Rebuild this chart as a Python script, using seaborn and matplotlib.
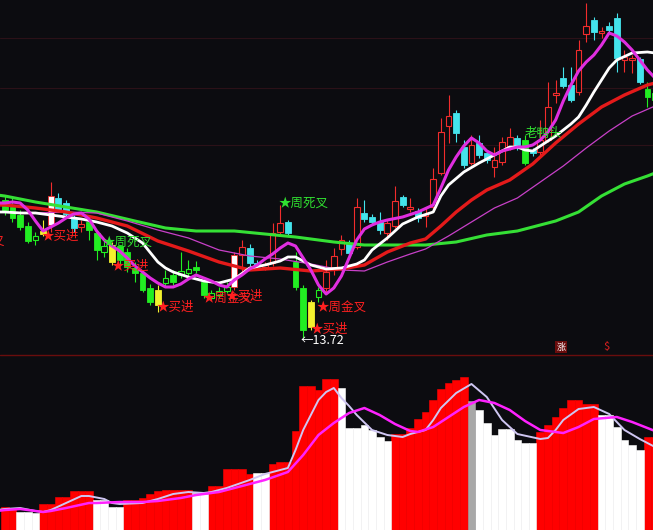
import matplotlib
matplotlib.use("Agg")
import matplotlib.pyplot as plt
import seaborn as sns
import pandas as pd
from matplotlib.patches import Rectangle
from matplotlib.lines import Line2D

# ---------------- data ----------------
kinds = ['g','g','g','g','gh','y','w','c','c','c','r','g','g','gh','y','g','g','g','g','g',
         'y','gh','g','gh','gh','g','g','gh','gh','gh','w','r','c','c','r','r','r','c','g','g',
         'y','gh','r','r','r','c','r','c','c','c','r','r','c','r','c','r','r','r','r','c',
         'c','r','c','c','r','r','r','c','g','c','r','r','r','c','c','r','r','c','r','c',
         'c','r','r','c','g','g']
opens = [15.10,15.03,14.95,14.84,14.70,14.79,14.85,15.12,15.07,14.92,14.83,14.88,14.77,14.58,14.65,14.64,14.58,14.42,14.37,14.22,
         14.20,14.27,14.35,14.35,14.37,14.43,14.28,14.12,14.15,14.19,14.23,14.55,14.62,14.47,14.43,14.47,14.78,14.88,14.48,14.22,
         14.08,14.13,14.22,14.40,14.61,14.67,14.63,14.97,14.93,14.88,14.77,14.84,15.13,15.01,14.99,14.94,15.03,15.37,15.84,15.97,
         15.63,15.47,15.67,15.57,15.43,15.48,15.63,15.72,15.70,15.60,15.58,15.70,16.15,16.32,16.25,16.18,16.76,16.90,16.77,16.84,
         16.92,16.50,16.50,16.51,16.21,16.17]
closes = [15.00,14.92,14.83,14.69,14.74,14.76,15.14,15.00,14.96,14.82,14.86,14.80,14.60,14.64,14.48,14.50,14.43,14.37,14.20,14.08,
          14.05,14.32,14.28,14.39,14.41,14.40,14.15,14.17,14.19,14.23,14.55,14.63,14.47,14.44,14.45,14.77,14.87,14.77,14.23,13.80,
          13.83,14.20,14.38,14.54,14.70,14.57,15.03,14.91,14.88,14.80,14.87,15.09,15.05,15.03,14.92,14.96,15.31,15.78,15.94,15.77,
          15.45,15.65,15.55,15.50,15.50,15.68,15.73,15.63,15.47,15.57,15.70,16.03,16.17,16.24,16.10,16.60,16.84,16.78,16.79,16.80,
          16.52,16.53,16.52,16.28,16.13,16.10]
highs = [15.15,15.13,15.00,14.88,14.78,14.90,15.28,15.17,15.10,14.95,14.90,14.92,14.80,14.70,14.68,14.65,14.62,14.48,14.40,14.26,
         14.25,14.40,14.40,14.58,14.50,14.49,14.32,14.20,14.23,14.28,14.58,14.70,14.66,14.50,14.48,14.87,15.05,14.90,14.58,14.25,
         14.10,14.23,14.50,14.62,14.75,14.70,15.12,15.10,14.96,14.98,14.90,15.24,15.15,15.12,15.02,15.03,15.42,15.92,16.15,16.00,
         15.70,15.75,15.75,15.60,15.63,15.73,15.82,15.75,15.75,15.62,15.90,16.28,16.30,16.43,16.43,16.70,17.07,16.93,16.83,16.88,
         16.97,16.60,16.55,16.53,16.28,16.22]
lows = [14.95,14.88,14.80,14.67,14.65,14.74,14.78,14.98,14.94,14.78,14.78,14.70,14.50,14.53,14.45,14.44,14.38,14.28,14.18,14.05,
        13.98,14.23,14.25,14.32,14.34,14.37,14.12,14.10,14.12,14.17,14.20,14.35,14.44,14.42,14.40,14.44,14.75,14.74,14.20,13.72,
        13.80,14.08,14.17,14.35,14.55,14.54,14.61,14.88,14.85,14.76,14.70,14.82,15.03,14.98,14.88,14.83,15.00,15.35,15.67,15.68,
        15.42,15.45,15.52,15.47,15.33,15.45,15.60,15.60,15.45,15.54,15.53,15.68,16.07,16.22,16.08,16.15,16.68,16.70,16.72,16.78,
        16.38,16.38,16.37,16.26,16.03,16.06]

ma5_k = [-1,0,1,2,3,4,5,6,7,8,9,10,11,12,13,14,15,16,17,18,19,20,21,22,23,24,25,26,27,28,29,30,31,32,33,34,35,36,37,38,39,40,
         41,42,43,44,45,46,47,48,49,50,52,54,56,57,58,59,60,61,62,63,64,65,66,67,68,69,70,71,72,73,74,75,76,77,78,79,80,81,82,83,84,85]
ma5_v = [15.07,15.07,15.08,15.07,15.00,14.89,14.79,14.83,14.87,14.92,14.96,14.97,14.91,14.79,14.70,14.64,14.59,14.52,14.44,14.38,
         14.32,14.27,14.23,14.23,14.26,14.31,14.35,14.32,14.29,14.25,14.23,14.30,14.35,14.41,14.45,14.51,14.56,14.62,14.67,14.64,
         14.52,14.40,14.25,14.16,14.22,14.34,14.52,14.70,14.81,14.85,14.88,14.90,14.93,14.98,15.05,15.22,15.40,15.53,15.64,15.72,
         15.67,15.59,15.55,15.59,15.61,15.63,15.63,15.65,15.70,15.78,15.90,16.09,16.25,16.39,16.48,16.55,16.65,16.77,16.74,16.68,
         16.60,16.50,16.40,16.32]
ma10_k = [-1,0,2,4,6,8,10,12,14,16,18,20,21,22,24,26,28,30,32,34,36,37,38,40,42,44,46,47,48,50,52,54,56,57,58,60,62,64,66,67,
          68,69,70,72,74,75,76,77,78,79,80,82,84,85]
ma10_v = [14.98,14.98,14.97,14.97,14.95,14.93,14.91,14.88,14.84,14.77,14.67,14.48,14.42,14.38,14.33,14.29,14.27,14.31,14.42,14.45,
          14.49,14.53,14.53,14.45,14.41,14.42,14.46,14.50,14.60,14.72,14.86,14.93,14.98,15.14,15.25,15.38,15.47,15.55,15.63,15.63,
          15.60,15.59,15.64,15.74,15.86,15.93,16.05,16.18,16.30,16.42,16.50,16.57,16.58,16.57]
ma20_k = [-1,0,4,8,12,16,20,24,28,32,36,40,44,47,50,53,55,57,59,61,63,66,69,72,75,78,81,84,85]
ma20_v = [15.05,15.05,15.02,14.98,14.92,14.84,14.69,14.59,14.48,14.40,14.42,14.39,14.41,14.45,14.58,14.67,14.71,14.84,14.98,15.10,
          15.20,15.30,15.46,15.67,15.86,16.03,16.15,16.25,16.27]
ma30_k = [-1,0,4,8,12,16,20,24,28,32,36,40,44,47,50,53,55,58,61,64,67,70,73,76,79,82,85]
ma30_v = [14.98,14.98,14.97,14.98,14.97,14.89,14.80,14.72,14.60,14.54,14.51,14.46,14.40,14.39,14.48,14.56,14.61,14.74,14.88,15.02,
          15.12,15.28,15.44,15.62,15.79,15.94,16.04]
ma60_k = [-1,0,4,8,12,17,21,25,30,34,38,43,47,51,55,59,63,67,72,75,78,81,84,85]
ma60_v = [15.15,15.14,15.08,15.03,14.98,14.89,14.82,14.79,14.79,14.76,14.73,14.68,14.65,14.65,14.65,14.68,14.75,14.79,14.89,14.98,
          15.14,15.26,15.34,15.37]

grid_levels = [16.72, 16.22, 15.65]

lab_text = ['★买进', '★周死叉', '★买进', '★买进', '★周金叉', '★买进', '★周死叉', '★周金叉', '★买进', '←13.72', '老鸭头', '叉']
lab_k = [4.86, 12.8, 13.9, 19.8, 25.8, 28.8, 35.8, 40.7, 39.9, 38.6, 67.9, -0.1]
lab_p = [14.74, 14.68, 14.44, 14.03, 14.11, 14.14, 15.07, 14.02, 13.81, 13.70, 15.77, 14.69]
lab_col = ['#ff2020', '#30e030', '#ff2020', '#ff2020', '#ff2020', '#ff2020', '#30e030', '#ff2020', '#ff2020', '#ffffff',
           '#30e030', '#ff2020']

# lower indicator panel
ind_v = [23,22,18,18,17,26,26,33,33,39,39,39,30,30,23,23,30,30,32,36,
         39,40,40,40,40,37,36,44,44,61,61,61,56,57,57,66,68,68,99,144,
         144,140,151,151,142,102,102,105,100,93,89,96,96,102,111,118,130,141,147,150,
         153,129,120,107,95,101,101,90,87,87,98,105,113,122,130,130,126,126,115,115,
         103,90,85,80,93,93]
ind_c = ['r','r','w','w','w','r','r','r','r','r','r','r','w','w','w','w','r','r','r','r',
         'r','r','r','r','r','w','w','r','r','r','r','r','r','w','w','r','r','r','r','r',
         'r','r','r','r','w','w','w','w','w','w','w','r','r','r','r','r','r','r','r','r',
         'r','s','w','w','w','w','w','w','w','w','r','r','r','r','r','r','r','r','w','w',
         'w','w','w','w','r','r']
lav_k = [-1,0,2,4,5,6,8,10,11,13,14,15,18,20,22,24,26,27,29,32,34,37,38,39,40,41,42,43,44,45,46,48,50,52,53,55,56,57,59,61,
         63,65,67,70,71,72,73,75,77,79,81,83,85]
lav_v = [20,21,22,19,18,20,27,34,34,31,27,26,27,31,36,38,37,38,42,50,56,62,80,100,115,130,138,142,132,124,115,100,95,93,96,100,110,122,137,146,
         133,110,96,91,92,100,110,121,123,116,100,91,83]
mag_k = [-1,0,2,5,6,8,11,12,15,18,20,23,25,28,29,32,34,37,39,41,43,45,47,49,51,53,54,56,57,60,62,64,66,68,70,73,75,77,80,82,85]
mag_v = [19,20,21,18,19,22,27,27,28,28,29,32,35,38,40,46,50,58,75,95,107,117,122,115,106,99,98,103,108,123,130,127,120,109,100,97,103,111,113,108,99]

# ---------------- style ----------------
sns.set_theme(style="dark")
plt.rcParams['font.family'] = ['Noto Sans CJK SC', 'DejaVu Sans']

BG = '#0c0c10'
RED = '#f22c2c'
CYAN = '#44e4ec'
GREEN = '#22ee22'
YELLOW = '#f2f22e'
WHITE = '#ffffff'
colmap = {'r': RED, 'c': CYAN, 'g': GREEN, 'gh': GREEN, 'y': YELLOW, 'w': WHITE}
XL = (-0.634, 84.73)

fig = plt.figure(figsize=(6.53, 5.30), dpi=100, facecolor=BG)
top_h = 355 / 530
ax = fig.add_axes([0, 1 - top_h, 1, top_h])
axb = fig.add_axes([0, 0, 1, 174 / 530])
for a in (ax, axb):
    a.set_facecolor(BG)
    for s in a.spines.values():
        s.set_visible(False)

# grid lines
for g in grid_levels:
    ax.axhline(g, color='#2c1118', lw=0.8, zorder=0)

# candles
for k, (kd, o, h, l, c) in enumerate(zip(kinds, opens, highs, lows, closes)):
    col = colmap[kd]
    wick = RED if kd == 'w' else col
    top, bot = max(o, c), min(o, c)
    ax.vlines(k, top, h, color=wick, lw=0.8, zorder=2)
    ax.vlines(k, l, bot, color=wick, lw=0.8, zorder=2)
    hgt = max(top - bot, 0.008)
    if kd in ('r', 'gh'):
        rect = Rectangle((k - 0.38, bot), 0.76, hgt, facecolor=BG, edgecolor=col, lw=0.8, zorder=2)
    else:
        ec = RED if kd == 'w' else col
        rect = Rectangle((k - 0.38, bot), 0.76, hgt, facecolor=col, edgecolor=ec, lw=0.6, zorder=2)
    ax.add_patch(rect)

# moving averages
sns.lineplot(x=ma60_k, y=ma60_v, ax=ax, color='#35e035', lw=2.2, estimator=None, sort=False, zorder=3)
sns.lineplot(x=ma30_k, y=ma30_v, ax=ax, color='#c840c8', lw=0.9, estimator=None, sort=False, zorder=3)
sns.lineplot(x=ma20_k, y=ma20_v, ax=ax, color='#e41a1a', lw=2.4, estimator=None, sort=False, zorder=3)
sns.lineplot(x=ma10_k, y=ma10_v, ax=ax, color='#ffffff', lw=2.0, estimator=None, sort=False, zorder=3)
sns.lineplot(x=ma5_k, y=ma5_v, ax=ax, color='#e02ee0', lw=2.2, estimator=None, sort=False, zorder=4)

for t, k, p, c in zip(lab_text, lab_k, lab_p, lab_col):
    ha = 'right' if t == '叉' else 'left'
    ax.text(k, p, t, color=c, fontsize=9, ha=ha, va='center', zorder=5)

ax.set_xlim(*XL)
ax.set_ylim(17.10 - 3.55, 17.10)
ax.set_xticks([]); ax.set_yticks([])
ax.set_xlabel(''); ax.set_ylabel('')
ax.grid(False)

# small icons above separator
ax.text(72.7, 13.63, '涨', color='#ffffff', fontsize=6.5, ha='center', va='center',
        bbox=dict(boxstyle='square,pad=0.15', fc='#6a0c0c', ec='none'), zorder=5)
ax.text(78.7, 13.63, '$', color='#e02020', fontsize=8, ha='center', va='center', zorder=5)

# separator line
fig.add_artist(Line2D([0, 1], [1 - top_h, 1 - top_h], color='#6a0d0d', lw=1.0))

# lower panel
df = pd.DataFrame({'k': list(range(len(ind_v))), 'v': ind_v, 'c': ind_c})
sns.barplot(data=df, x='k', y='v', hue='c', palette={'r': '#ff0000', 'w': '#ffffff', 's': '#a8a8a8'},
            native_scale=True, width=1.0, dodge=False, legend=False, errorbar=None, linewidth=0,
            saturation=1, ax=axb)
for p in axb.patches:
    p.set_edgecolor(p.get_facecolor())
    p.set_linewidth(0.4)
sns.lineplot(x=lav_k, y=lav_v, ax=axb, color='#cfc6f2', lw=1.4, estimator=None, sort=False, zorder=4)
sns.lineplot(x=mag_k, y=mag_v, ax=axb, color='#ff22ff', lw=1.8, estimator=None, sort=False, zorder=5)
axb.set_xlim(*XL)
axb.set_ylim(0, 174)
axb.set_xticks([]); axb.set_yticks([])
axb.set_xlabel(''); axb.set_ylabel('')
axb.grid(False)

fig.savefig('out.png', dpi=100, facecolor=BG)
